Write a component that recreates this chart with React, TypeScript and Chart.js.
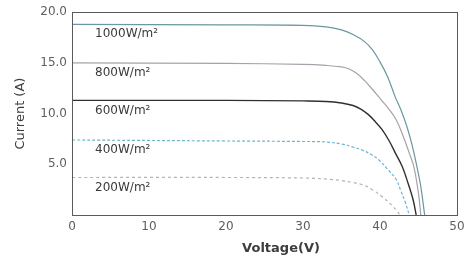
import React, { useEffect, useRef } from "react";
import { Chart, registerables } from "chart.js";

Chart.register(...registerables);

// Voltage (V) samples and current (A) per irradiance level
const irradianceLabels = ["1000W/m²", "800W/m²", "600W/m²", "400W/m²", "200W/m²"];

const v1000 = [0, 20, 30, 33, 35, 36.5, 38, 39, 40, 41, 42, 42.7, 43.5, 44.2, 44.8, 45.3, 45.8];
const i1000 = [18.8, 18.75, 18.7, 18.55, 18.25, 17.8, 17.1, 16.3, 15.1, 13.6, 11.6, 10.4, 8.7, 6.8, 4.75, 2.8, 0];

const v800 = [0, 20, 30, 33, 35, 36, 37, 38, 39, 40, 41.2, 42.1, 43, 43.8, 44.4, 45, 45.3];
const i800 = [15.0, 14.95, 14.85, 14.75, 14.6, 14.4, 13.95, 13.25, 12.4, 11.5, 10.4, 9.4, 7.8, 6.1, 4.75, 2.1, 0];

const v600 = [0, 20, 30, 33, 35, 36.5, 37.5, 38.5, 39.5, 40.3, 41.2, 42, 42.9, 43.7, 44.3, 44.7];
const i600 = [11.3, 11.3, 11.25, 11.2, 11.05, 10.8, 10.45, 9.9, 9.1, 8.4, 7.3, 6.1, 4.75, 3.0, 1.5, 0];

const v400 = [0, 20, 30, 33, 35, 36.5, 37.7, 39, 39.9, 41, 42.1, 42.7, 43.3, 43.8];
const i400 = [7.4, 7.3, 7.25, 7.2, 7.0, 6.7, 6.4, 5.9, 5.4, 4.5, 3.5, 2.4, 1.2, 0];

const v200 = [0, 20, 30, 33, 35, 36.5, 37.7, 39, 40.3, 41.5, 42.2, 42.6];
const i200 = [3.7, 3.7, 3.65, 3.55, 3.4, 3.2, 3.0, 2.5, 1.8, 1.0, 0.4, 0];

const xTicks = [0, 10, 20, 30, 40, 50];
const yTicks = [5, 10, 15, 20];
const labelVoltage = 3;

const seriesV = [v1000, v800, v600, v400, v200];
const seriesI = [i1000, i800, i600, i400, i200];
const colors = ["#6a97a2", "#a9a0ab", "#303030", "#6cb6cf", "#b3b3b3"];
const dashes = [[], [], [], [3, 2], [3, 3]];

export default function App() {
  const ref = useRef<HTMLCanvasElement>(null);

  useEffect(() => {
    document.body.style.margin = "0";
    if (!ref.current) return;

    const boxPlugin = {
      id: "box",
      afterDatasetsDraw(chart: any) {
        const { ctx, chartArea } = chart;
        ctx.save();
        ctx.strokeStyle = "#5a5a5a";
        ctx.lineWidth = 1;
        ctx.strokeRect(
          Math.round(chartArea.left) + 0.5,
          Math.round(chartArea.top) + 0.5,
          Math.round(chartArea.right - chartArea.left),
          Math.round(chartArea.bottom - chartArea.top)
        );
        // curve labels
        const xs = chart.scales.x;
        const ys = chart.scales.y;
        ctx.fillStyle = "#3a3a3a";
        ctx.font = "12px 'DejaVu Sans'";
        ctx.textAlign = "left";
        ctx.textBaseline = "middle";
        irradianceLabels.forEach((t, k) => {
          const px = xs.getPixelForValue(labelVoltage);
          const py = ys.getPixelForValue(seriesI[k][0]) + 10;
          ctx.fillText(t, px, py);
        });
        // axis titles
        ctx.fillStyle = "#3c3c3c";
        ctx.font = "bold 13px 'DejaVu Sans'";
        ctx.textAlign = "center";
        ctx.fillText("Voltage(V)", 281, 249);
        ctx.translate(21, (chartArea.top + chartArea.bottom) / 2);
        ctx.rotate(-Math.PI / 2);
        ctx.font = "13px 'DejaVu Sans'";
        ctx.fillText("Current (A)", 0, 0);
        ctx.restore();
      },
    };

    const chart = new Chart(ref.current, {
      type: "line",
      data: {
        datasets: seriesV.map((vs, k) => ({
          label: irradianceLabels[k],
          data: vs.map((v, j) => ({ x: v, y: seriesI[k][j] })),
          borderColor: colors[k],
          borderWidth: k === 2 ? 1.4 : 1.2,
          borderDash: dashes[k],
          pointRadius: 0,
          fill: false,
          tension: 0.4,
        })),
      },
      options: {
        animation: false,
        responsive: false,
        layout: { padding: { top: 12, right: 15, left: 0, bottom: 0 } },
        plugins: { legend: { display: false }, tooltip: { enabled: false } },
        scales: {
          x: {
            type: "linear",
            min: 0,
            max: 50,
            afterFit: (s: any) => {
              s.height = 46;
            },
            afterBuildTicks: (s: any) => {
              s.ticks = xTicks.map((v) => ({ value: v }));
            },
            grid: { display: false, drawTicks: false },
            border: { display: false },
            ticks: {
              color: "#5e5e5e",
              font: { family: "'DejaVu Sans'", size: 12 },
              padding: 5,
              callback: (v: any) => String(v),
            },
          },
          y: {
            type: "linear",
            min: 0,
            max: 20,
            afterFit: (s: any) => {
              s.width = 72;
            },
            afterBuildTicks: (s: any) => {
              s.ticks = yTicks.map((v) => ({ value: v }));
            },
            grid: { display: false, drawTicks: false },
            border: { display: false },
            ticks: {
              color: "#5e5e5e",
              font: { family: "'DejaVu Sans'", size: 12 },
              padding: 5,
              callback: (v: any) => Number(v).toFixed(1),
            },
          },
        },
      },
      plugins: [boxPlugin],
    });
    return () => chart.destroy();
  }, []);

  return <canvas ref={ref} width={472} height={261} style={{ display: "block" }} />;
}
